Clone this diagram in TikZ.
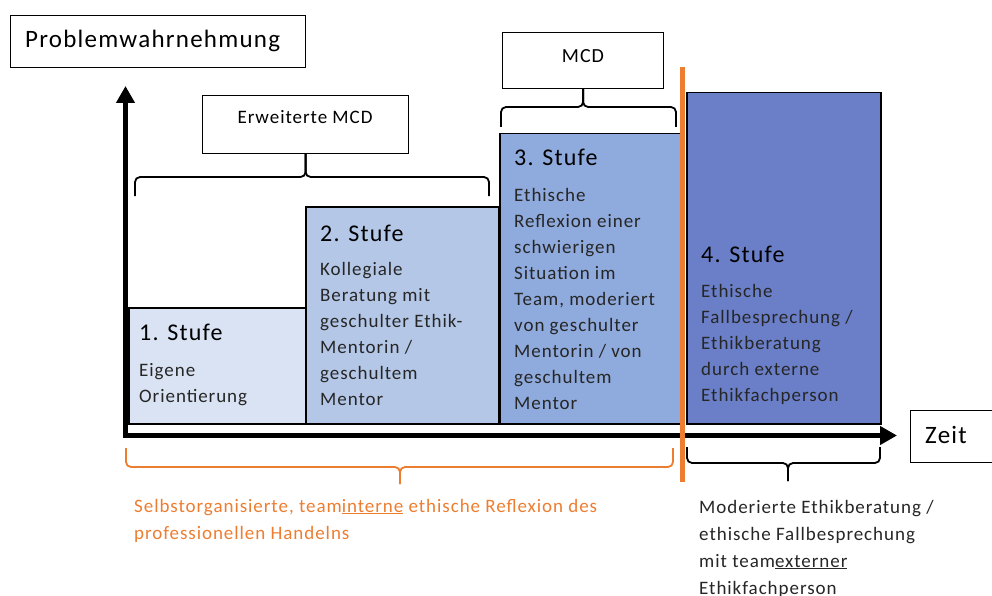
\documentclass[tikz,border=0pt]{standalone}
\usepackage{fontspec}
\setmainfont[LetterSpace=5]{Carlito}
\usetikzlibrary{arrows.meta}
\definecolor{cA}{HTML}{DAE3F3}
\definecolor{cB}{HTML}{B4C7E7}
\definecolor{cC}{HTML}{8FAADC}
\definecolor{cD}{HTML}{6A7FC8}
\definecolor{orng}{HTML}{ED7D31}
\definecolor{txt}{HTML}{262626}
\begin{document}
\begin{tikzpicture}[x=1pt,y=-1pt,
  stage/.style={draw=black, line width=1.5pt, anchor=north west, inner sep=0pt},
  lblbox/.style={draw=black, line width=1.2pt, fill=white, anchor=north west, inner sep=0pt},
  head/.style={anchor=base west, inner sep=0pt, font=\fontsize{24}{26}\selectfont},
  body/.style={anchor=base west, inner sep=0pt, text=txt, font=\fontsize{19}{26}\selectfont},
  brc/.style={line width=1.8pt, rounded corners=5pt},
  axis/.style={line width=5pt, line join=miter, {Triangle[length=17pt,width=18pt]}-{Triangle[length=17pt,width=18pt]}}
]
\useasboundingbox (0,0) rectangle (992,596);
\clip (0,0) rectangle (992,596);

% label boxes
\node[lblbox, minimum width=295pt, minimum height=52pt] (pw) at (10,15) {};
\node[anchor=base west, inner sep=0pt, font=\fontsize{25}{30}\selectfont] (pwt) at (25,48) {Problemwahrnehmung};
\node[lblbox, minimum width=206pt, minimum height=58pt] (em) at (202,95) {};
\node[anchor=base, inner sep=0pt, font=\fontsize{19}{22}\selectfont] (emt) at (305,124) {Erweiterte MCD};
\node[lblbox, minimum width=161pt, minimum height=56pt] (mcd) at (502,32) {};
\node[anchor=base, inner sep=0pt, font=\fontsize{20}{22}\selectfont] (mcdt) at (583,63) {MCD};
\node[lblbox, minimum width=100pt, minimum height=52pt] (zeit) at (910,410) {};
\node[anchor=base west, inner sep=0pt, font=\fontsize{25}{30}\selectfont] (zeitt) at (925,443) {Zeit};

% stages
\node[stage, fill=cA, minimum width=177pt, minimum height=116pt] (s1) at (128,307) {};
\node[stage, fill=cB, minimum width=193pt, minimum height=217pt] (s2) at (305,206) {};
\node[stage, fill=cC, minimum width=181pt, minimum height=290pt] (s3) at (499,133) {};
\node[stage, fill=cD, minimum width=194pt, minimum height=331pt] (s4) at (686,92) {};

\node[head] (h1) at (139,340) {1. Stufe};
\node[head] (h2) at (320,241) {2. Stufe};
\node[head] (h3) at (514,166) {3. Stufe};
\node[head] (h4) at (701,262) {4. Stufe};

\foreach \t [count=\i] in {Eigene, Orientierung}
  \node[body] (la\i) at (139,{376+26*(\i-1)}) {\t};
\foreach \t [count=\i] in {Kollegiale, Beratung mit, geschulter Ethik-, Mentorin /, geschultem, Mentor}
  \node[body] (lb\i) at (320,{275+26*(\i-1)}) {\t};
\foreach \t [count=\i] in {Ethische, Reflexion einer, schwierigen, Situation im, {Team, moderiert}, von geschulter, Mentorin / von, geschultem, Mentor}
  \node[body] (lc\i) at (514,{201+26*(\i-1)}) {\t};
\foreach \t [count=\i] in {Ethische, Fallbesprechung /, Ethikberatung, durch externe, Ethikfachperson}
  \node[body] (ld\i) at (701,{297+26*(\i-1)}) {\t};

% axes
\coordinate (ytop) at (125.5,86);
\coordinate (orig) at (125.5,435.5);
\coordinate (xend) at (897,435.5);
\draw[axis] (ytop) -- (orig) -- (xend);

% top braces
\draw[brc] (135,196) -- (135,177) -- (em.south |- 0,177) -- (em.south);
\draw[brc] (489,196) -- (489,177) -- (em.south |- 0,177) -- (em.south);
\draw[brc] (501,127) -- (501,107) -- (mcd.south |- 0,107) -- (mcd.south);
\draw[brc] (676,127) -- (676,107) -- (mcd.south |- 0,107) -- (mcd.south);

% bottom braces
\coordinate (otip) at (400,484);
\coordinate (ktip) at (788,481);
\draw[brc, orng] (126,448) -- (126,467) -- (otip |- 0,467) -- (otip);
\draw[brc, orng] (673,448) -- (673,467) -- (otip |- 0,467) -- (otip);
\draw[brc] (687,447) -- (687,463) -- (ktip |- 0,463) -- (ktip);
\draw[brc] (880,447) -- (880,463) -- (ktip |- 0,463) -- (ktip);

% orange separator
\coordinate (sepT) at (682.5,67);
\coordinate (sepB) at (682.5,482);
\draw[orng, line width=5pt] (sepT) -- (sepB);

% bottom texts
\node[body, text=orng] (o1) at (134,512) {Selbstorganisierte, team\underline{interne} ethische Reflexion des};
\node[body, text=orng] (o2) at (134,539) {professionellen Handelns};
\foreach \t [count=\i] in {Moderierte Ethikberatung /, ethische Fallbesprechung, mit team\underline{externer}, Ethikfachperson}
  \node[body] (r\i) at (699,{513+27*(\i-1)}) {\t};
\end{tikzpicture}
\end{document}
